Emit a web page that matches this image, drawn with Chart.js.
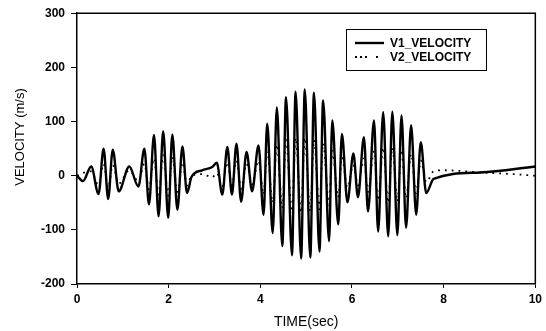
<!DOCTYPE html>
<html>
<head>
<meta charset="utf-8">
<script src="https://cdn.jsdelivr.net/npm/chart.js@4"></script>
<style>
  body { margin: 0; background: #fff; }
</style>
</head>
<body>
<canvas id="velChart" width="546" height="331"></canvas>
<script>
// values (peaks / troughs of each swing)
const v1Time = [0, 0.13, 0.31, 0.47, 0.58, 0.68, 0.78, 0.91, 1.14, 1.34,
  1.47, 1.57, 1.68, 1.78, 1.88, 1.99, 2.08, 2.19, 2.30, 2.40,
  2.50, 2.73, 2.95, 3.05, 3.17, 3.28, 3.38, 3.48, 3.58, 3.70,
  3.82, 3.96, 4.07, 4.15, 4.27, 4.36, 4.48, 4.56, 4.69, 4.77,
  4.89, 4.97, 5.09, 5.17, 5.29, 5.37, 5.50, 5.57, 5.70, 5.78,
  5.90, 6.03, 6.13, 6.26, 6.35, 6.48, 6.57, 6.68, 6.79, 6.88,
  6.99, 7.08, 7.18, 7.29, 7.40, 7.50, 7.62, 7.78, 8.8, 10];
const v1Vel = [0, -10, 17, -34, 50, -43, 48, -29, 17, -20,
  50, -53, 75, -75, 82, -78, 76, -63, 54, -32,
  -2, 10, 16, 24, -35, 53, -35, 59, -48, 44,
  -29, 56, -72, 96, -106, 126, -130, 145, -147, 155,
  -153, 159, -151, 153, -140, 139, -121, 102, -90, 77,
  -49, 41, -40, 71, -66, 102, -103, 117, -112, 118,
  -110, 111, -96, 93, -72, 62, -32, -6, 6, 17];

const v2Time = [0, 0.13, 0.31, 0.47, 0.58, 0.68, 0.78, 0.91, 1.14, 1.34,
  1.47, 1.57, 1.68, 1.78, 1.88, 1.99, 2.08, 2.19, 2.30, 2.40,
  2.50, 2.73, 2.95, 3.05, 3.17, 3.28, 3.38, 3.48, 3.58, 3.70,
  3.82, 3.96, 4.07, 4.15, 4.27, 4.36, 4.48, 4.56, 4.69, 4.77,
  4.89, 4.97, 5.09, 5.17, 5.29, 5.37, 5.50, 5.57, 5.70, 5.78,
  5.90, 6.03, 6.13, 6.26, 6.35, 6.48, 6.57, 6.68, 6.79, 6.88,
  6.99, 7.08, 7.18, 7.29, 7.40, 7.50, 7.62, 7.78, 8.0, 8.8, 9.5, 10];
const v2Vel = [0, 5, 8, -18, 22, -22, 20, -15, 10, -10,
  22, -25, 32, -35, 38, -37, 35, -30, 25, -18,
  0, 3, -3, 5, -20, 25, -18, 28, -24, 22,
  -16, 28, -35, 45, -50, 58, -60, 66, -66, 70,
  -68, 70, -66, 66, -62, 60, -54, 46, -40, 34,
  -22, 20, -18, 32, -30, 46, -46, 52, -50, 52,
  -48, 48, -42, 40, -32, 28, -12, 8, 10, 6, 3, 0];

const seriesNames = ['V1_VELOCITY', 'V2_VELOCITY'];
const xTicks = [0, 2, 4, 6, 8, 10];
const yTicks = [-200, -100, 0, 100, 200, 300];
const xTitle = 'TIME(sec)';
const yTitle = 'VELOCITY (m/s)';

const FONT = 'Liberation Sans, Arial, sans-serif';

const toPoints = (ts, vs) => ts.map((t, i) => ({ x: t, y: vs[i] }));

// box round the plot, rotated y title and the boxed legend
const decorations = {
  id: 'decorations',
  afterDraw(chart) {
    const { ctx, chartArea: a } = chart;
    ctx.save();
    ctx.strokeStyle = '#000';
    ctx.lineWidth = 1.5;
    ctx.beginPath();
    ctx.moveTo(a.left, a.top);
    ctx.lineTo(a.right, a.top);
    ctx.lineTo(a.right, a.bottom);
    ctx.stroke();

    ctx.fillStyle = '#000';
    ctx.font = '13px ' + FONT;
    ctx.textAlign = 'center';
    ctx.textBaseline = 'middle';
    ctx.translate(20, 137);
    ctx.rotate(-Math.PI / 2);
    ctx.fillText(yTitle, 0, 0);
    ctx.restore();

    // legend
    ctx.save();
    ctx.fillStyle = '#fff';
    ctx.fillRect(346, 29, 141, 42);
    ctx.strokeStyle = '#000';
    ctx.lineWidth = 1;
    ctx.strokeRect(346.5, 29.5, 140, 41);
    const rows = [43, 57];
    const samples = [[], [2, 3, 2, 3, 2, 9, 2, 20]];
    chart.data.datasets.forEach((ds, i) => {
      ctx.strokeStyle = '#000';
      ctx.lineWidth = ds.borderWidth;
      ctx.setLineDash(samples[i]);
      ctx.beginPath();
      ctx.moveTo(355, rows[i]);
      ctx.lineTo(384, rows[i]);
      ctx.stroke();
      ctx.setLineDash([]);
      ctx.fillStyle = '#000';
      ctx.font = 'bold 12px ' + FONT;
      ctx.textAlign = 'left';
      ctx.textBaseline = 'middle';
      ctx.fillText(ds.label, 390, rows[i] + 0.5);
    });
    ctx.restore();
  }
};

new Chart(document.getElementById('velChart'), {
  type: 'line',
  data: {
    datasets: [
      {
        label: seriesNames[0],
        data: toPoints(v1Time, v1Vel),
        borderColor: '#000',
        borderWidth: 2.4,
        pointRadius: 0,
        cubicInterpolationMode: 'monotone',
      },
      {
        label: seriesNames[1],
        data: toPoints(v2Time, v2Vel),
        borderColor: '#000',
        borderWidth: 1.8,
        borderDash: [1.8, 5],
        pointRadius: 0,
        cubicInterpolationMode: 'monotone',
      },
    ],
  },
  options: {
    responsive: false,
    animation: false,
    layout: { padding: { top: 11, right: 8, left: 0, bottom: 0 } },
    plugins: {
      legend: { display: false },
      tooltip: { enabled: false },
    },
    scales: {
      x: {
        type: 'linear',
        min: xTicks[0],
        max: xTicks[xTicks.length - 1],
        afterFit: (s) => { s.height = 47; },
        afterBuildTicks: (s) => { s.ticks = xTicks.map(v => ({ value: v })); },
        border: { color: '#000', width: 1.5 },
        grid: { drawOnChartArea: false, color: '#000', tickLength: 4 },
        ticks: { color: '#000', padding: 4, font: { family: FONT, size: 12, weight: 'bold' } },
        title: {
          display: true,
          text: xTitle,
          color: '#000',
          font: { family: FONT, size: 14 },
          padding: { top: 8, bottom: 0 },
        },
      },
      y: {
        min: yTicks[0],
        max: yTicks[yTicks.length - 1],
        afterFit: (s) => { s.width = 77; },
        afterBuildTicks: (s) => { s.ticks = yTicks.map(v => ({ value: v })); },
        border: { color: '#000', width: 1.5 },
        grid: { drawOnChartArea: false, color: '#000', tickLength: 6 },
        ticks: { color: '#000', padding: 6, font: { family: FONT, size: 12, weight: 'bold' } },
      },
    },
  },
  plugins: [decorations],
});
</script>
</body>
</html>
